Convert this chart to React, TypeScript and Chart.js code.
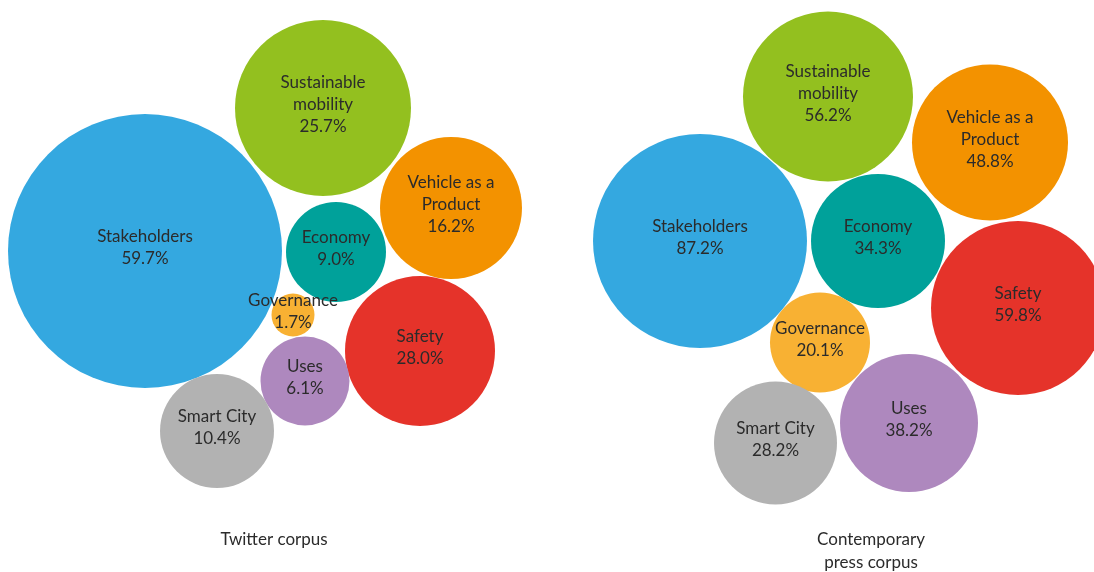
import React, { useEffect, useRef } from "react";
import { Chart, registerables } from "chart.js";

Chart.register(...registerables);

// Categories (same order in both corpora)
const categories = [
  "Stakeholders",
  "Sustainable\nmobility",
  "Vehicle as a\nProduct",
  "Economy",
  "Safety",
  "Governance",
  "Uses",
  "Smart City",
];
const colors = ["#34a8e0", "#93c01f", "#f39200", "#00a19a", "#e5332a", "#f8b133", "#ae88be", "#b2b2b2"];

// Twitter corpus
const twitterValues = [59.7, 25.7, 16.2, 9.0, 28.0, 1.7, 6.1, 10.4];
const twitterX = [145, 323, 451, 336, 420, 293, 305, 217];
const twitterY = [251, 108, 208, 252, 351, 315, 381, 431];
const twitterR = [137, 88, 71, 50, 75, 21.5, 44.5, 57];

// Contemporary press corpus
const pressValues = [87.2, 56.2, 48.8, 34.3, 59.8, 20.1, 38.2, 28.2];
const pressX = [700, 828, 990, 878, 1018, 820, 909, 775.5];
const pressY = [241, 96.5, 142.5, 241, 308, 342.5, 423, 443];
const pressR = [107, 85, 78, 67, 87, 50, 69, 61.5];

const panelTitles = [
  { lines: ["Twitter corpus"], x: 274, y: 540 },
  { lines: ["Contemporary", "press corpus"], x: 871, y: 540 },
];

const W = 1094;
const H = 572;
const FONT = "17px Lato, 'Open Sans', sans-serif";
const TEXT = "#2b2b2b";

const labelPlugin = {
  id: "bubbleLabels",
  afterDatasetsDraw(chart: any) {
    const ctx = chart.ctx;
    ctx.save();
    ctx.font = FONT;
    ctx.fillStyle = TEXT;
    ctx.textAlign = "center";
    ctx.textBaseline = "middle";
    const lh = 22;
    chart.data.datasets.forEach((ds: any, di: number) => {
      const meta = chart.getDatasetMeta(di);
      meta.data.forEach((el: any, i: number) => {
        const lines = [...categories[i].split("\n"), ds.values[i].toFixed(1) + "%"];
        const top = el.y - 3 - ((lines.length - 1) * lh) / 2;
        lines.forEach((l: string, k: number) => ctx.fillText(l, el.x, top + k * lh));
      });
    });
    const xs = chart.scales.x;
    const ys = chart.scales.y;
    panelTitles.forEach((t) => {
      t.lines.forEach((l, k) => ctx.fillText(l, xs.getPixelForValue(t.x), ys.getPixelForValue(t.y) + k * 23));
    });
    ctx.restore();
  },
};

export default function App() {
  const ref = useRef<HTMLCanvasElement>(null);
  useEffect(() => {
    if (!ref.current) return;
    const mk = (xs: number[], ys: number[], rs: number[]) => xs.map((x, i) => ({ x, y: ys[i], r: rs[i] }));
    const chart = new Chart(ref.current, {
      type: "bubble",
      data: {
        datasets: [
          {
            label: "Twitter corpus",
            data: mk(twitterX, twitterY, twitterR),
            values: twitterValues,
            backgroundColor: colors,
            borderWidth: 0,
            hoverRadius: 0,
          } as any,
          {
            label: "Contemporary press corpus",
            data: mk(pressX, pressY, pressR),
            values: pressValues,
            backgroundColor: colors,
            borderWidth: 0,
            hoverRadius: 0,
          } as any,
        ],
      },
      options: {
        animation: false,
        responsive: false,
        layout: { padding: 0, autoPadding: false },
        plugins: { legend: { display: false }, tooltip: { enabled: false } },
        scales: {
          x: { type: "linear", min: 0, max: W, display: false },
          y: { type: "linear", min: 0, max: H, reverse: true, display: false },
        },
      },
      plugins: [labelPlugin],
    });
    return () => chart.destroy();
  }, []);
  return (
    <div style={{ position: "absolute", left: 0, top: 0, width: W, height: H, background: "#fff" }}>
      <canvas ref={ref} width={W} height={H} style={{ width: W, height: H }} />
    </div>
  );
}
